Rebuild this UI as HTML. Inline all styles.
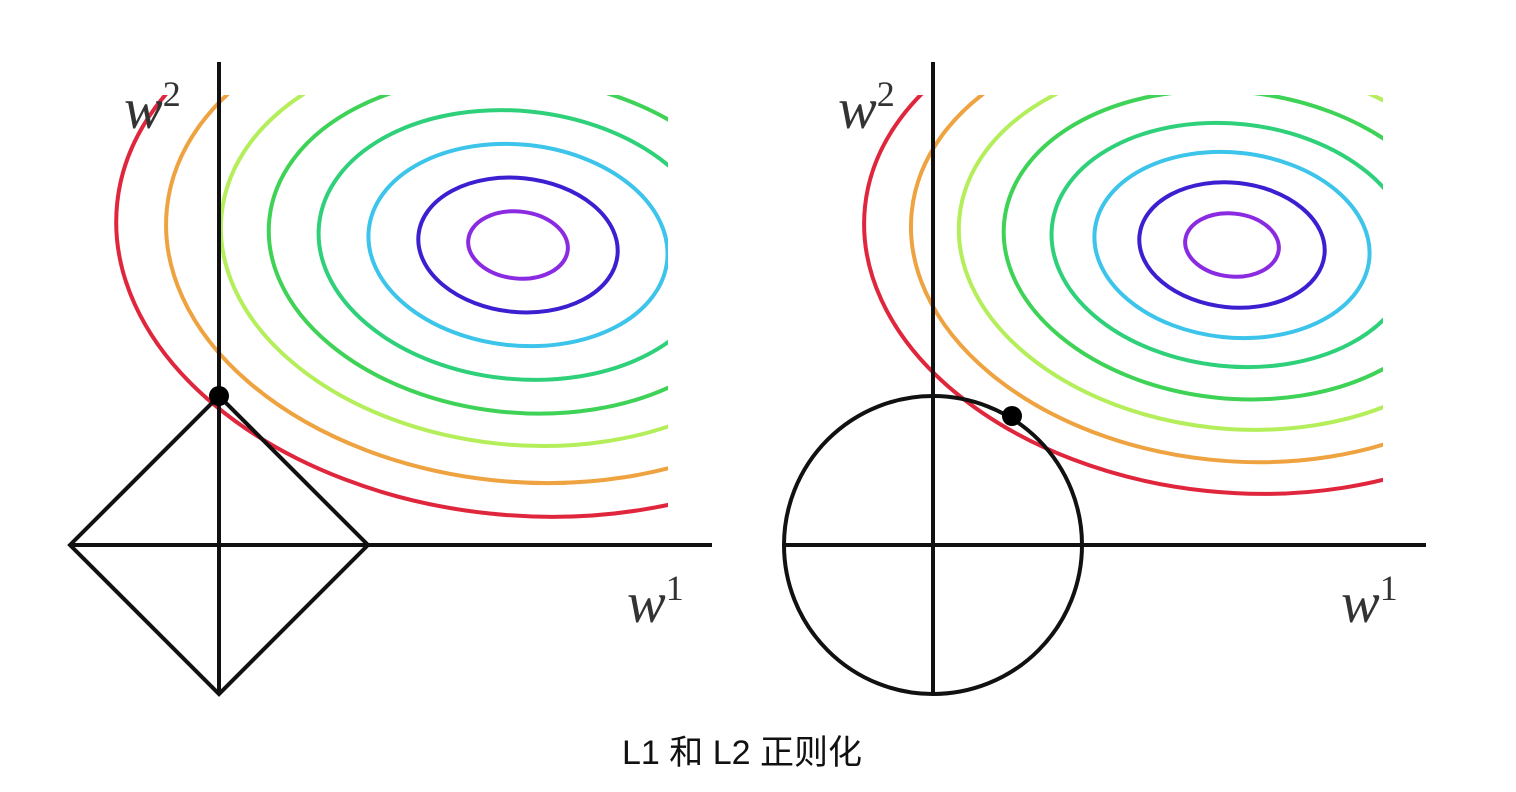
<!DOCTYPE html>
<html><head><meta charset="utf-8"><style>
body{margin:0;background:#fff;width:1516px;height:792px;overflow:hidden}
svg{display:block}
.lbl{font-family:"Liberation Serif",serif;font-style:italic;fill:#333}
</style></head><body>
<svg id="chart" width="1516" height="792" viewBox="0 0 1516 792">
<defs>
<clipPath id="clipL"><rect x="0" y="95" width="668" height="500"/></clipPath>
<clipPath id="clipR"><rect x="720" y="95" width="663" height="500"/></clipPath>
</defs>
<g id="left"></g>
<g id="right"></g>
<text x="742" y="764" text-anchor="middle" font-family="'Liberation Sans','Noto Sans CJK SC',sans-serif" font-size="34" fill="#111">L1 和 L2 正则化</text>
</svg>
<script>
const levels = ["purple","blue","cyan","green1","green2","yellowgreen","orange","red"];
const colors = ["#8a2be2","#3b1fd0","#3cc4ea","#2fd07a","#3ed256","#b4ee5a","#eea240","#e0263c"];
const leftRx = [50,100,150,200,250,298,353,403];
const rightRx = [47,93,138,181,229,274,322,369];
const ratio = 0.67;
const NS="http://www.w3.org/2000/svg";
function mk(tag,attrs,parent){const e=document.createElementNS(NS,tag);for(const k in attrs)e.setAttribute(k,attrs[k]);parent.appendChild(e);return e;}
function panel(g,ox,cx,cy,rxs,clip,isL1){
  const cg=mk("g",{"clip-path":"url(#"+clip+")"},g);
  rxs.forEach((rx,i)=>{
    const el=mk("ellipse",{cx:cx,cy:cy,rx:rx,ry:rx*ratio,fill:"none",stroke:colors[i],"stroke-width":4,transform:"rotate(6 "+cx+" "+cy+")"},cg);
    
    
  });
  const s={stroke:"#111","stroke-width":4,fill:"none"};
  const va=mk("line",Object.assign({x1:ox,y1:62,x2:ox,y2:692},s),g);
  
  
  const ha=mk("line",Object.assign({x1:ox-149,y1:545,x2:ox+493,y2:545},s),g);
  
  
  let shape;
  if(isL1){shape=mk("polygon",Object.assign({points:(ox-149)+",545 "+ox+",396 "+(ox+149)+",545 "+ox+",694"},s),g);}
  else{shape=mk("circle",Object.assign({cx:ox,cy:545,r:149},s),g);}
  
  
  const d=isL1?[ox,396]:[ox+79,416];
  const dot=mk("circle",{cx:d[0],cy:d[1],r:10,fill:"#000"},g);
  
  
  const t2=mk("text",{x:ox-95,y:128,"font-size":58,class:"lbl"},g);t2.innerHTML='w<tspan dy="-22" font-size="36" font-style="normal">2</tspan>';
  
  
  const t1=mk("text",{x:ox+408,y:622,"font-size":58,class:"lbl"},g);t1.innerHTML='w<tspan dy="-22" font-size="36" font-style="normal">1</tspan>';
  
  
}
panel(document.getElementById("left"),219,518,245,leftRx,"clipL",true);
panel(document.getElementById("right"),933,1232,245,rightRx,"clipR",false);
</script>
</body></html>
